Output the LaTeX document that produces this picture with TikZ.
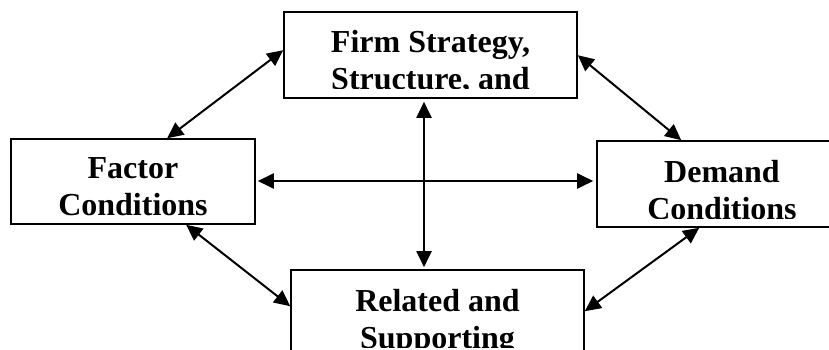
\documentclass[tikz,border=0pt]{standalone}
\usepackage{fontspec}
\setmainfont{Liberation Serif}
\usetikzlibrary{arrows.meta}

\tikzset{
  box/.style={draw, line width=1.6pt, inner sep=0pt, minimum width=#1, minimum height=86pt},
  label/.style={anchor=north, align=center, inner sep=0pt,
    font=\fontsize{32}{37}\selectfont\bfseries},
  link/.style={line width=2pt, {Triangle[length=16pt,width=15pt]}-{Triangle[length=16pt,width=15pt]}},
}

\begin{document}
\begin{tikzpicture}[x=1pt,y=1pt]
  \useasboundingbox (0,0) rectangle (829,349);

  % the four boxes
  \node[box=293pt] (firm)    at (430.5,294) {};
  \node[box=244pt, minimum height=85pt] (factor) at (133,167.5) {};
  \node[box=250pt] (demand)  at (722,165) {};
  \node[box=293pt] (related) at (437.5,36) {};

  % box texts, cut off at the lower inner margin of each box
  \begin{scope}
    \clip (firm.north west) rectangle ([yshift=10pt]firm.south east);
    \node[label] (firmtext) at ([yshift=-19pt]firm.north) {Firm Strategy,\\Structure, and};
  \end{scope}
  \begin{scope}
    \clip (factor.north west) rectangle ([yshift=8pt]factor.south east);
    \node[label] (factortext) at ([yshift=-19pt]factor.north) {Factor\\Conditions};
  \end{scope}
  \begin{scope}
    \clip (demand.north west) rectangle ([yshift=9pt]demand.south east);
    \node[label] (demandtext) at ([yshift=-20pt]demand.north) {Demand\\Conditions};
  \end{scope}
  \begin{scope}
    \clip (related.north west) rectangle ([yshift=9pt]related.south east);
    \node[label] (relatedtext) at ([yshift=-20pt]related.north) {Related and\\Supporting};
  \end{scope}

  % two-way links between the boxes
  \draw[link] ([yshift=-39pt]firm.north west) -- ([xshift=157pt]factor.north west);
  \draw[link] ([yshift=-44pt]firm.north east) -- ([xshift=85pt]demand.north west);
  \draw[link] ([xshift=176pt]factor.south west) -- ([yshift=-37pt]related.north west);
  \draw[link] ([xshift=103pt]demand.south west) -- ([yshift=-42pt]related.north east);
  \draw[link] ([xshift=2pt,yshift=0.5pt]factor.east) -- ([xshift=-3pt,yshift=3pt]demand.west);
  \draw[link] ([xshift=-6.5pt,yshift=-3pt]firm.south) -- ([xshift=-13.5pt,yshift=2pt]related.north);
\end{tikzpicture}
\end{document}
